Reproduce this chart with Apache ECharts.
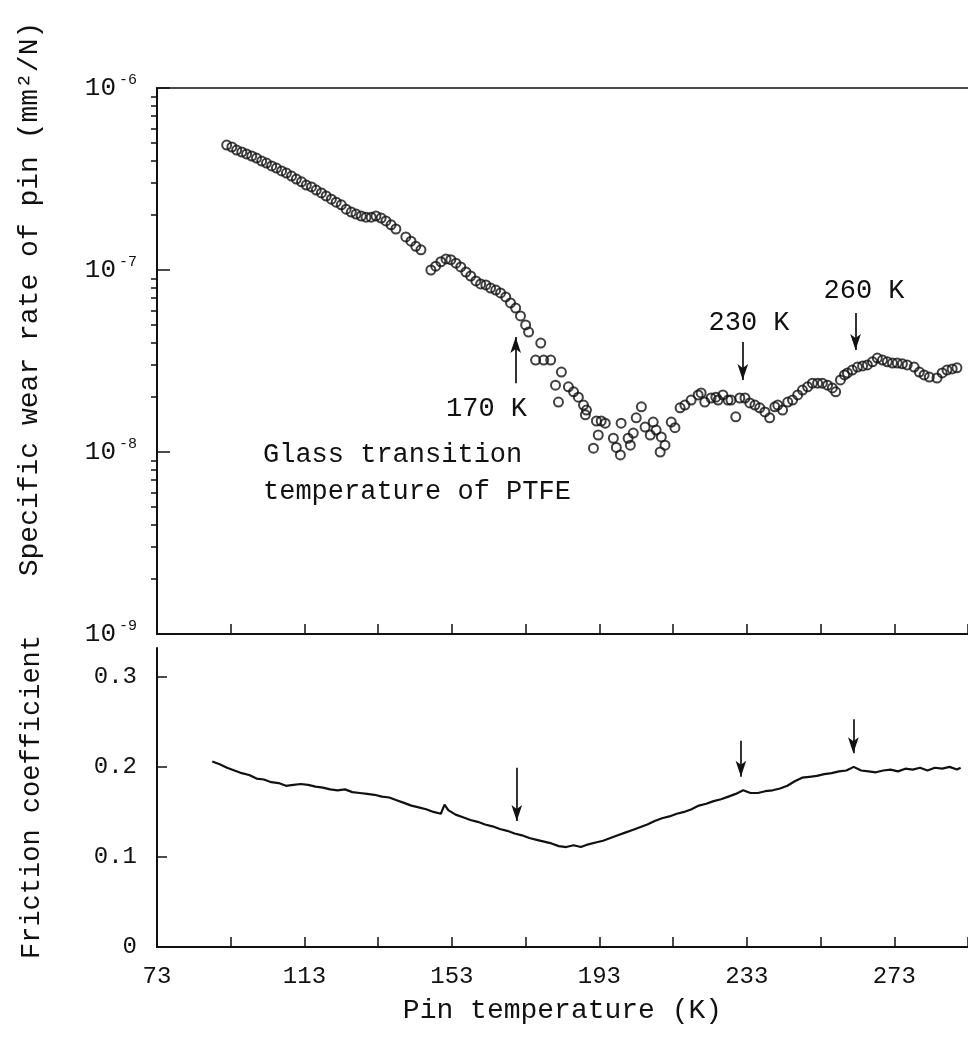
<!DOCTYPE html>
<html><head><meta charset="utf-8">
<script src="https://cdn.jsdelivr.net/npm/echarts@6/dist/echarts.min.js"></script>
<style>html,body{margin:0;padding:0;background:#fff}#c{width:968px;height:1047px}</style>
</head><body><div id="c"></div>
<script>
// ---- Data ----
const wearT = [
  91.9, 93.3, 94.6, 96.0, 97.3, 98.7, 100.0, 101.4, 102.7, 104.1, 105.4, 106.8, 108.1, 109.5, 110.8,
  112.2, 113.5, 114.9, 116.2, 117.6, 118.9, 120.3, 121.6, 123.0, 124.3, 125.7, 127.0, 128.4, 129.7,
  131.1, 132.4, 133.8, 135.1, 136.5, 137.8, 140.5, 141.9, 143.2, 144.6,
  147.3, 148.6, 150.0, 151.4, 152.7, 154.1, 155.4, 156.8, 158.1, 159.5, 160.8, 162.2, 163.5, 164.9,
  166.2, 167.6, 168.9, 170.3, 171.6, 173.0, 173.8,
  177.1, 175.7, 177.9, 179.8, 182.7, 181.1, 181.9, 184.6, 186.0, 187.3, 188.7, 189.5, 189.2, 192.2,
  193.5, 192.7, 191.4, 194.6, 196.8, 197.6, 198.9, 198.7, 200.8, 202.2, 201.4, 203.0, 204.4, 205.4,
  206.8, 207.6, 208.4, 209.8, 210.8, 209.5, 212.5, 213.5, 214.9, 216.2, 217.9, 219.8, 220.6, 221.6,
  223.3, 224.6, 225.2, 226.5, 227.9, 228.7, 230.0, 231.1, 232.5, 233.8, 235.2, 236.5, 237.9, 239.2,
  240.6, 241.4, 242.7, 244.1, 245.4, 246.8, 248.1, 249.5, 250.8, 252.2, 253.5, 254.9, 256.2, 257.1,
  258.4, 259.5, 260.3, 261.6, 263.0, 264.4, 265.7, 267.1, 268.4, 269.8, 271.1, 272.5, 273.8, 275.2,
  276.5, 278.4, 279.8, 281.1, 282.5, 284.6, 286.0, 287.3, 288.7, 290.0
];
const wearRate = [
  4.86e-7, 4.74e-7, 4.56e-7, 4.45e-7, 4.34e-7, 4.23e-7, 4.12e-7, 3.97e-7, 3.87e-7, 3.73e-7, 3.63e-7, 3.50e-7, 3.41e-7, 3.28e-7, 3.16e-7,
  3.05e-7, 2.93e-7, 2.86e-7, 2.75e-7, 2.65e-7, 2.55e-7, 2.45e-7, 2.36e-7, 2.28e-7, 2.16e-7, 2.08e-7, 2.03e-7, 1.98e-7, 1.95e-7,
  1.95e-7, 1.98e-7, 1.93e-7, 1.86e-7, 1.77e-7, 1.68e-7, 1.52e-7, 1.44e-7, 1.35e-7, 1.29e-7,
  1.00e-7, 1.05e-7, 1.11e-7, 1.15e-7, 1.14e-7, 1.09e-7, 1.04e-7, 9.75e-8, 9.27e-8, 8.71e-8, 8.38e-8, 8.28e-8, 7.96e-8, 7.76e-8,
  7.48e-8, 7.11e-8, 6.59e-8, 6.18e-8, 5.59e-8, 4.99e-8, 4.56e-8,
  3.97e-8, 3.20e-8, 3.20e-8, 3.20e-8, 2.75e-8, 2.33e-8, 1.88e-8, 2.28e-8, 2.14e-8, 2.00e-8, 1.81e-8, 1.70e-8, 1.60e-8, 1.48e-8,
  1.48e-8, 1.24e-8, 1.05e-8, 1.44e-8, 1.19e-8, 1.06e-8, 1.44e-8, 9.64e-9, 1.19e-8, 1.27e-8, 1.09e-8, 1.54e-8, 1.77e-8, 1.37e-8,
  1.24e-8, 1.46e-8, 1.32e-8, 1.21e-8, 1.09e-8, 1.00e-8, 1.46e-8, 1.36e-8, 1.75e-8, 1.81e-8, 1.93e-8, 2.06e-8, 2.11e-8, 1.88e-8,
  1.98e-8, 2.00e-8, 1.93e-8, 2.06e-8, 1.93e-8, 1.93e-8, 1.56e-8, 1.98e-8, 1.98e-8, 1.86e-8, 1.81e-8, 1.75e-8, 1.66e-8, 1.54e-8,
  1.77e-8, 1.81e-8, 1.70e-8, 1.88e-8, 1.93e-8, 2.06e-8, 2.19e-8, 2.28e-8, 2.39e-8, 2.39e-8, 2.39e-8, 2.33e-8, 2.25e-8, 2.14e-8,
  2.49e-8, 2.65e-8, 2.72e-8, 2.82e-8, 2.93e-8, 2.97e-8, 3.01e-8, 3.13e-8, 3.28e-8, 3.20e-8, 3.13e-8, 3.08e-8, 3.08e-8, 3.05e-8,
  3.01e-8, 2.93e-8, 2.75e-8, 2.65e-8, 2.58e-8, 2.55e-8, 2.72e-8, 2.82e-8, 2.86e-8, 2.90e-8
];
const frictionT = [
  88, 90, 92, 94, 96, 98, 100, 102, 104, 106, 108, 110, 112, 114, 116, 118, 120, 122, 124, 126, 128, 130,
  132, 134, 136, 138, 140, 142, 144, 146, 148, 150, 151, 152, 154, 156, 158, 160, 162, 164, 166, 168, 170,
  172, 174, 176, 178, 180, 182, 184, 186, 188, 190, 192, 194, 196, 198, 200, 202, 204, 206, 208, 210, 212,
  214, 216, 218, 220, 222, 224, 226, 228, 230, 232, 234, 236, 238, 240, 242, 244, 246, 248, 250, 252, 254,
  256, 258, 260, 262, 264, 266, 268, 270, 272, 274, 276, 278, 280, 282, 284, 286, 288, 290, 291
];
const frictionCoef = [
  0.206, 0.203, 0.199, 0.196, 0.193, 0.191, 0.187, 0.186, 0.183, 0.182, 0.179, 0.180, 0.181, 0.180, 0.178, 0.177, 0.175, 0.174, 0.175, 0.172, 0.171, 0.170,
  0.169, 0.167, 0.166, 0.163, 0.160, 0.157, 0.155, 0.153, 0.150, 0.148, 0.158, 0.152, 0.147, 0.144, 0.141, 0.139, 0.136, 0.134, 0.131, 0.129, 0.126,
  0.124, 0.121, 0.119, 0.117, 0.115, 0.112, 0.111, 0.113, 0.111, 0.114, 0.116, 0.118, 0.121, 0.124, 0.127, 0.130, 0.133, 0.136, 0.140, 0.143, 0.145,
  0.148, 0.150, 0.153, 0.157, 0.159, 0.162, 0.164, 0.167, 0.170, 0.174, 0.171, 0.171, 0.173, 0.174, 0.176, 0.179, 0.184, 0.188, 0.189, 0.190, 0.192,
  0.193, 0.195, 0.196, 0.200, 0.196, 0.195, 0.194, 0.196, 0.197, 0.195, 0.198, 0.197, 0.199, 0.196, 0.199, 0.198, 0.200, 0.197, 0.199
];
const xTickLabels = [73, 113, 153, 193, 233, 273];
const wearDecades = [1e-9, 1e-8, 1e-7, 1e-6];
const wearMinorTicks = [
  2e-9, 3e-9, 4e-9, 5e-9, 6e-9, 7e-9, 8e-9, 9e-9,
  2e-8, 3e-8, 4e-8, 5e-8, 6e-8, 7e-8, 8e-8, 9e-8,
  2e-7, 3e-7, 4e-7, 5e-7, 6e-7, 7e-7, 8e-7, 9e-7
];
const frictionTicks = [0, 0.1, 0.2, 0.3];
// arrows (temperature, from, to)
const wearArrowT = [170.3, 231.9, 262.5];
const wearArrowFrom = [2.39e-8, 4.02e-8, 5.81e-8];
const wearArrowTo = [4.28e-8, 2.49e-8, 3.63e-8];
const frictionArrowT = [170.6, 231.4, 261.9];
const frictionArrowFrom = [0.199, 0.229, 0.253];
const frictionArrowTo = [0.140, 0.189, 0.215];

// ---- Chart ----
const FONT = '"Liberation Mono", "DejaVu Sans Mono", monospace';
const INK = '#111';
const chart = echarts.init(document.getElementById('c'), null, {renderer: 'canvas'});

const arrowLines = (ts, from, to) => ts.map((t, i) => [{coord: [t, from[i]]}, {coord: [t, to[i]]}]);
const markLineStyle = {
  silent: true, animation: false,
  symbol: ['none', 'arrow'], symbolSize: [8, 16],
  lineStyle: {color: INK, width: 1.7, type: 'solid'},
  label: {show: false}
};

const option = {
  animation: false,
  backgroundColor: '#fff',
  grid: [
    {left: 157, top: 88, width: 814, height: 546},
    {left: 157, top: 648, width: 814, height: 299}
  ],
  xAxis: [
    {
      gridIndex: 0, type: 'value', position: 'bottom', min: 73, max: 293, interval: 20,
      axisLine: {lineStyle: {color: INK, width: 2}},
      axisTick: {inside: true, length: 10, lineStyle: {color: INK, width: 1.5}},
      axisLabel: {show: false}, splitLine: {show: false}
    },
    {
      gridIndex: 0, type: 'value', position: 'top', min: 73, max: 293,
      axisLine: {lineStyle: {color: INK, width: 1.6}},
      axisTick: {show: false}, axisLabel: {show: false}, splitLine: {show: false}
    },
    {
      gridIndex: 1, type: 'value', min: 73, max: 293, interval: 20,
      axisLine: {lineStyle: {color: INK, width: 2}},
      axisTick: {inside: true, length: 10, lineStyle: {color: INK, width: 1.5}},
      axisLabel: {customValues: xTickLabels, fontFamily: FONT, fontSize: 24, color: INK, margin: 18},
      splitLine: {show: false},
      name: 'Pin temperature (K)', nameLocation: 'middle', nameGap: 50,
      nameTextStyle: {fontFamily: FONT, fontSize: 28, color: INK}
    }
  ],
  yAxis: [
    {
      gridIndex: 0, type: 'log', logBase: 10, min: 1e-9, max: 1e-6, position: 'left',
      axisLine: {show: true, lineStyle: {color: INK, width: 2}},
      axisTick: {show: true, inside: true, length: 13, customValues: wearDecades, lineStyle: {color: INK, width: 1.5}},
      axisLabel: {
        customValues: wearDecades, margin: 20,
        formatter: function (v) { return '{b|10}{s|' + Math.round(Math.log10(v)) + '}'; },
        rich: {
          b: {fontFamily: FONT, fontSize: 26, color: INK},
          s: {fontFamily: FONT, fontSize: 15, color: INK, padding: [0, 0, 16, 3]}
        }
      },
      splitLine: {show: false}, minorTick: {show: false}
    },
    {
      gridIndex: 0, type: 'log', logBase: 10, min: 1e-9, max: 1e-6, position: 'left', offset: 0,
      axisLine: {show: false},
      axisTick: {show: true, inside: false, length: 6, customValues: wearMinorTicks, lineStyle: {color: INK, width: 1.5}},
      axisLabel: {show: false}, splitLine: {show: false}
    },
    {
      gridIndex: 1, type: 'value', min: 0, max: 0.332, position: 'left',
      axisLine: {show: true, lineStyle: {color: INK, width: 2}},
      axisTick: {show: true, inside: true, length: 10, customValues: frictionTicks, lineStyle: {color: INK, width: 1.5}},
      axisLabel: {customValues: frictionTicks, fontFamily: FONT, fontSize: 24, color: INK, margin: 20,
        formatter: function (v) { return String(v); }},
      splitLine: {show: false}
    }
  ],
  series: [
    {
      type: 'scatter', xAxisIndex: 0, yAxisIndex: 0,
      data: wearT.map((t, i) => [t, wearRate[i]]),
      symbol: 'circle', symbolSize: 9,
      itemStyle: {color: 'rgba(255,255,255,0)', borderColor: INK, borderWidth: 2},
      markLine: Object.assign({data: arrowLines(wearArrowT, wearArrowFrom, wearArrowTo)}, markLineStyle)
    },
    {
      type: 'line', xAxisIndex: 2, yAxisIndex: 2,
      data: frictionT.map((t, i) => [t, frictionCoef[i]]),
      showSymbol: false, symbol: 'none',
      lineStyle: {color: INK, width: 2.2},
      markLine: Object.assign({data: arrowLines(frictionArrowT, frictionArrowFrom, frictionArrowTo)}, markLineStyle)
    }
  ],
  graphic: [
    {type: 'text', x: 30, y: 299, rotation: Math.PI / 2,
      style: {text: 'Specific wear rate of pin (mm\u00B2/N)', font: '28px ' + FONT, fill: INK,
        align: 'center', verticalAlign: 'middle', textAlign: 'center', textVerticalAlign: 'middle'}},
    {type: 'text', x: 32, y: 797, rotation: Math.PI / 2,
      style: {text: 'Friction coefficient', font: '27px ' + FONT, fill: INK,
        align: 'center', verticalAlign: 'middle', textAlign: 'center', textVerticalAlign: 'middle'}},
    {type: 'text', x: 263, y: 455,
      style: {text: 'Glass transition', font: '27px ' + FONT, fill: INK,
        align: 'left', verticalAlign: 'middle', textAlign: 'left', textVerticalAlign: 'middle'}},
    {type: 'text', x: 263, y: 492,
      style: {text: 'temperature of PTFE', font: '27px ' + FONT, fill: INK,
        align: 'left', verticalAlign: 'middle', textAlign: 'left', textVerticalAlign: 'middle'}},
    {type: 'text', x: 527, y: 409,
      style: {text: '170 K', font: '27px ' + FONT, fill: INK,
        align: 'right', verticalAlign: 'middle', textAlign: 'right', textVerticalAlign: 'middle'}},
    {type: 'text', x: 749, y: 323,
      style: {text: '230 K', font: '27px ' + FONT, fill: INK,
        align: 'center', verticalAlign: 'middle', textAlign: 'center', textVerticalAlign: 'middle'}},
    {type: 'text', x: 864, y: 291,
      style: {text: '260 K', font: '27px ' + FONT, fill: INK,
        align: 'center', verticalAlign: 'middle', textAlign: 'center', textVerticalAlign: 'middle'}}
  ]
};
chart.setOption(option);
</script>
</body></html>
